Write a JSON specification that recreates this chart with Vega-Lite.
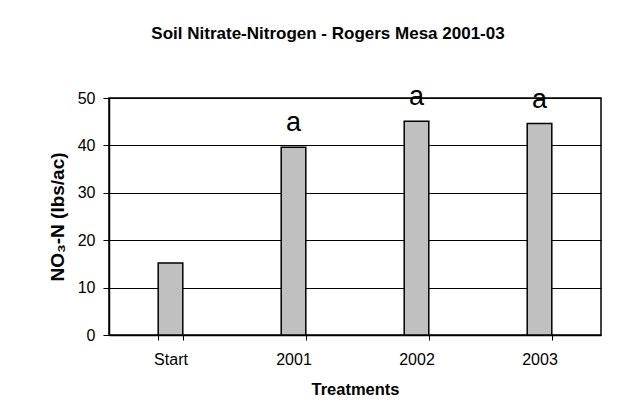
{
  "$schema": "https://vega.github.io/schema/vega-lite/v6.json",
  "width": 492,
  "height": 237,
  "autosize": {"type": "none"},
  "padding": {"left": 109, "top": 98, "right": 42, "bottom": 82},
  "background": "white",
  "title": {
    "text": "Soil Nitrate-Nitrogen - Rogers Mesa 2001-03",
    "font": "Liberation Sans",
    "fontSize": 17,
    "fontWeight": "bold",
    "color": "black",
    "anchor": "middle",
    "dx": -27,
    "offset": 40
  },
  "data": {
    "values": [
      {"treatment": "Start", "nitrate": 15.2, "letter": ""},
      {"treatment": "2001", "nitrate": 39.6, "letter": "a"},
      {"treatment": "2002", "nitrate": 45.1, "letter": "a"},
      {"treatment": "2003", "nitrate": 44.6, "letter": "a"}
    ]
  },
  "encoding": {
    "x": {
      "field": "treatment",
      "type": "nominal",
      "sort": null,
      "scale": {"paddingInner": 0.8, "paddingOuter": 0.4},
      "axis": {
        "title": "Treatments",
        "labelAngle": 0,
        "tickBand": "extent",
        "tickSize": 5,
        "tickColor": "black",
        "domainColor": "black",
        "domainWidth": 1.5,
        "labelPadding": 11,
        "titlePadding": 14,
        "titleFontSize": 16.5,
        "grid": false
      }
    },
    "y": {
      "field": "nitrate",
      "type": "quantitative",
      "scale": {"domain": [0, 50]},
      "axis": {
        "title": "NO₃-N (lbs/ac)",
        "values": [0, 10, 20, 30, 40, 50],
        "tickSize": 6,
        "tickColor": "black",
        "domainColor": "black",
        "domainWidth": 1.5,
        "labelPadding": 8,
        "titlePadding": 10,
        "titleFontSize": 19,
        "grid": true,
        "gridColor": "black",
        "gridWidth": 1
      }
    }
  },
  "layer": [
    {
      "mark": {"type": "bar", "fill": "#c0c0c0", "stroke": "black", "strokeWidth": 1.5}
    },
    {
      "mark": {"type": "text", "baseline": "alphabetic", "dy": -16, "fontSize": 27, "font": "Liberation Sans", "color": "black"},
      "encoding": {"text": {"field": "letter"}}
    }
  ],
  "config": {
    "view": {"stroke": "black", "strokeWidth": 1.5},
    "axis": {
      "labelFont": "Liberation Sans",
      "labelFontSize": 16,
      "labelColor": "black",
      "titleFont": "Liberation Sans",
      "titleFontSize": 16,
      "titleFontWeight": "bold",
      "titleColor": "black"
    }
  }
}
